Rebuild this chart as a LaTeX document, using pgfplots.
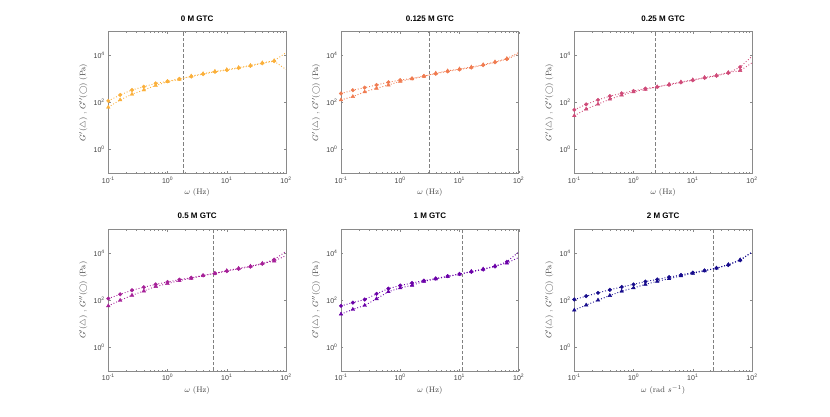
\documentclass[border=0pt]{standalone}
\usepackage{pgfplots}
\pgfplotsset{compat=1.18}
\usepackage{pgfplotstable}
\usepackage{fontspec}
\setsansfont{Liberation Sans}
\definecolor{cA}{HTML}{FBB03B}
\definecolor{cB}{HTML}{F07B50}
\definecolor{cC}{HTML}{CF4A78}
\definecolor{cD}{HTML}{A62098}
\definecolor{cE}{HTML}{6A00A8}
\definecolor{cF}{HTML}{160B8C}
\definecolor{axc}{HTML}{8A8A8A}
\definecolor{tkc}{HTML}{404040}
\definecolor{dsh}{HTML}{808080}

\pgfplotstableread{
w Gp Gpp
0.1 63 117
0.1585 129 209
0.2512 224 339
0.3981 339 468
0.631 525 646
1 759 794
1.585 955 1000
2.512 1318 1259
3.981 1660 1585
6.31 2089 1995
10 2455 2344
15.85 3020 2884
25.12 3715 3548
39.81 4786 4571
63.1 5888 5623
100 12882 2512
}\tA
\pgfplotstableread{
w Gp Gpp
0.1 129 240
0.1585 178 331
0.2512 282 427
0.3981 398 550
0.631 550 724
1 794 891
1.585 1000 1047
2.512 1288 1318
3.981 1738 1660
6.31 2188 2089
10 2630 2512
15.85 3162 3020
25.12 3981 3802
39.81 5248 5012
63.1 7244 6918
100 13183 11220
}\tB
\pgfplotstableread{
w Gp Gpp
0.1 27.5 49
0.1585 52.5 83
0.2512 85 129
0.3981 138 186
0.631 204 245
1 282 309
1.585 363 389
2.512 457 457
3.981 589 562
6.31 741 708
10 912 871
15.85 1148 1096
25.12 1413 1349
39.81 1862 1778
63.1 2239 3162
100 4786 9120
}\tC
\pgfplotstableread{
w Gp Gpp
0.1 57.5 117
0.1585 98 178
0.2512 162 263
0.3981 245 355
0.631 380 468
1 501 589
1.585 676 741
2.512 851 891
3.981 1096 1122
6.31 1380 1380
10 1778 1698
15.85 2239 2138
25.12 2754 2630
39.81 3631 3467
63.1 4571 5248
100 7762 11749
}\tD
\pgfplotstableread{
w Gp Gpp
0.1 25.7 57.5
0.1585 40.7 79
0.2512 60 107
0.3981 115 186
0.631 229 309
1 331 417
1.585 427 537
2.512 631 676
3.981 794 832
6.31 1000 1047
10 1259 1288
15.85 1660 1585
25.12 2089 1995
39.81 2818 2692
63.1 3715 4266
100 6457 10965
}\tE
\pgfplotstableread{
w Gp Gpp
0.1 38 107
0.1585 62 148
0.2512 100 204
0.3981 158 275
0.631 240 363
1 331 468
1.585 468 617
2.512 631 759
3.981 813 955
6.31 1072 1175
10 1380 1479
15.85 1738 1820
25.12 2291 2291
39.81 3236 3090
63.1 5129 4898
100 10965 10715
}\tF

\pgfplotsset{
  every axis/.append style={
    scale only axis, width=177.7pt, height=141.6pt,
    anchor=south west,
    xmin=0.1, xmax=100, ymin=0.1, ymax=100000,
    xtick={0.1,1,10,100},
    xticklabels={10\textsuperscript{-1},10\textsuperscript{0},10\textsuperscript{1},10\textsuperscript{2}},
    ytick={1,100,10000},
    yticklabels={10\textsuperscript{0},10\textsuperscript{2},10\textsuperscript{4}},
    tick label style={font=\fontsize{7}{8}\sffamily, text=tkc},
    xticklabel style={anchor=base, yshift=-10pt},
    axis line style={axc, line width=0.45pt},
    major tick style={axc, line width=0.4pt},
    minor tick style={axc, line width=0.35pt},
    major tick length=2.3pt, minor tick length=1.2pt,
    tick align=inside,
    title style={at={(0.5,1.033)}, anchor=base, font=\fontsize{8}{9}\sffamily\bfseries},
    xlabel style={at={(0.5,-0.152)}, anchor=base, font=\fontsize{8}{9}\selectfont, text=tkc},
    ylabel style={at={(-0.129,0.5)}, anchor=base, font=\fontsize{8}{9}\selectfont, text=tkc},
    ylabel={$G'(\triangle)$ , $G''(\bigcirc)$ (Pa)},
  },
  fitline/.style={dotted, line width=0.9pt},
  mtri/.style={only marks, mark=triangle*, mark size=2.1pt, skip coords between index={15}{16}},
  mcirc/.style={only marks, mark=*, mark size=1.8pt, skip coords between index={15}{16}},
  xline/.style={dsh, dash pattern=on 3.5pt off 2pt, line width=0.5pt},
}

\begin{document}
\begin{tikzpicture}
\useasboundingbox (0,0) rectangle (830pt,417pt);

\begin{loglogaxis}[at={(108.3pt,243.7pt)}, title={0 M GTC}, xlabel={$\omega$ (Hz)}]
\addplot[xline] coordinates {(1.85,0.1) (1.85,100000)};
\addplot[cA, fitline] table[x=w,y=Gp]{\tA};
\addplot[cA, fitline] table[x=w,y=Gpp]{\tA};
\addplot[cA, mtri] table[x=w,y=Gp]{\tA};
\addplot[cA, mcirc] table[x=w,y=Gpp]{\tA};
\end{loglogaxis}

\begin{loglogaxis}[at={(341pt,243.7pt)}, title={0.125 M GTC}, xlabel={$\omega$ (Hz)}]
\addplot[xline] coordinates {(3.06,0.1) (3.06,100000)};
\addplot[cB, fitline] table[x=w,y=Gp]{\tB};
\addplot[cB, fitline] table[x=w,y=Gpp]{\tB};
\addplot[cB, mtri] table[x=w,y=Gp]{\tB};
\addplot[cB, mcirc] table[x=w,y=Gpp]{\tB};
\end{loglogaxis}

\begin{loglogaxis}[at={(574.3pt,243.7pt)}, title={0.25 M GTC}, xlabel={$\omega$ (Hz)}]
\addplot[xline] coordinates {(2.37,0.1) (2.37,100000)};
\addplot[cC, fitline] table[x=w,y=Gp]{\tC};
\addplot[cC, fitline] table[x=w,y=Gpp]{\tC};
\addplot[cC, mtri] table[x=w,y=Gp]{\tC};
\addplot[cC, mcirc] table[x=w,y=Gpp]{\tC};
\end{loglogaxis}

\begin{loglogaxis}[at={(108.3pt,46pt)}, title={0.5 M GTC}, xlabel={$\omega$ (Hz)}]
\addplot[xline] coordinates {(5.8,0.1) (5.8,100000)};
\addplot[cD, fitline] table[x=w,y=Gp]{\tD};
\addplot[cD, fitline] table[x=w,y=Gpp]{\tD};
\addplot[cD, mtri] table[x=w,y=Gp]{\tD};
\addplot[cD, mcirc] table[x=w,y=Gpp]{\tD};
\end{loglogaxis}

\begin{loglogaxis}[at={(341pt,46pt)}, title={1 M GTC}, xlabel={$\omega$ (Hz)}]
\addplot[xline] coordinates {(11.2,0.1) (11.2,100000)};
\addplot[cE, fitline] table[x=w,y=Gp]{\tE};
\addplot[cE, fitline] table[x=w,y=Gpp]{\tE};
\addplot[cE, mtri] table[x=w,y=Gp]{\tE};
\addplot[cE, mcirc] table[x=w,y=Gpp]{\tE};
\end{loglogaxis}

\begin{loglogaxis}[at={(574.3pt,46pt)}, title={2 M GTC}, xlabel={$\omega$ (rad $s^{-1}$)}]
\addplot[xline] coordinates {(22.6,0.1) (22.6,100000)};
\addplot[cF, fitline] table[x=w,y=Gp]{\tF};
\addplot[cF, fitline] table[x=w,y=Gpp]{\tF};
\addplot[cF, mtri] table[x=w,y=Gp]{\tF};
\addplot[cF, mcirc] table[x=w,y=Gpp]{\tF};
\end{loglogaxis}
\end{tikzpicture}
\end{document}
